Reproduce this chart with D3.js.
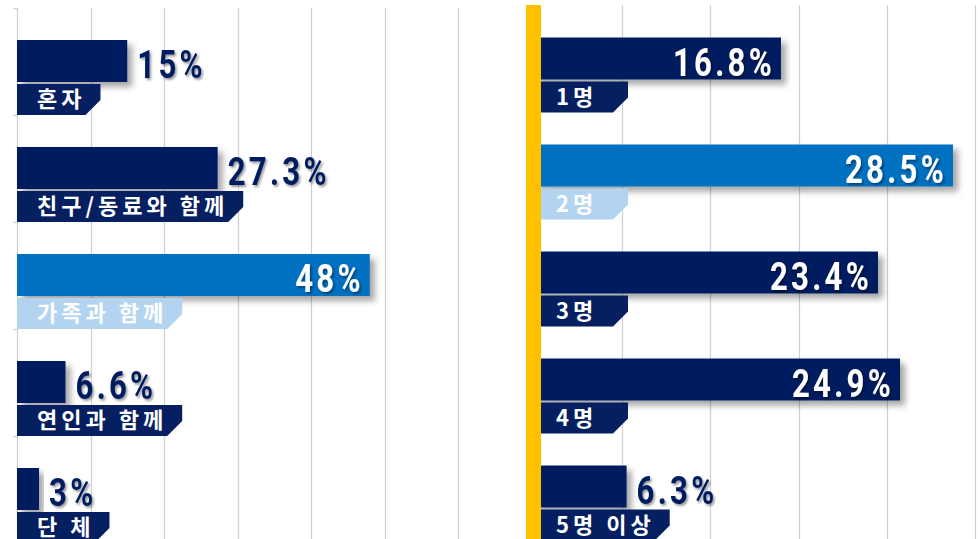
<!DOCTYPE html>
<html>
<head>
<meta charset="utf-8">
<script src="https://cdn.jsdelivr.net/npm/d3@7"></script>
<style>
body { margin: 0; background: #fff; }
svg { display: block; }
</style>
</head>
<body>
<div id="chart"></div>
<script>
/* Two horizontal bar panels: travel companions and party size */

// left panel
var companions = ["혼자", "친구/동료와 함께", "가족과 함께", "연인과 함께", "단 체"];
var companionPct = [15, 27.3, 48, 6.6, 3];
var companionTicks = [0, 10, 20, 30, 40, 50, 60];

// right panel
var partySizes = ["1명", "2명", "3명", "4명", "5명 이상"];
var partyPct = [16.8, 28.5, 23.4, 24.9, 6.3];
var partyTicks = [0, 6, 12, 18, 24, 30];

var navy = "#061f60";
var blue = "#0070c0";
var lightBlue = "#b3d4f0";
var gold = "#ffc000";
var gridColor = "#cfcfcf";

var W = 978, H = 539;

var svg = d3.select("#chart").append("svg")
    .attr("width", W)
    .attr("height", H);

var defs = svg.append("defs");
defs.append("filter").attr("id", "barShadow")
    .attr("x", "-10%").attr("y", "-20%").attr("width", "130%").attr("height", "160%")
    .append("feDropShadow")
    .attr("dx", 5).attr("dy", 5).attr("stdDeviation", 3)
    .attr("flood-color", "#000").attr("flood-opacity", 0.35);
defs.append("filter").attr("id", "textShadow")
    .attr("x", "-10%").attr("y", "-20%").attr("width", "130%").attr("height", "160%")
    .append("feDropShadow")
    .attr("dx", 2).attr("dy", 2).attr("stdDeviation", 1.2)
    .attr("flood-color", "#000").attr("flood-opacity", 0.4);

function drawPanel(opt) {
    var g = svg.append("g");

    var x = d3.scaleLinear()
        .domain([0, opt.ticks[opt.ticks.length - 1]])
        .range([opt.x0, opt.x1]);

    var y = d3.scaleBand()
        .domain(opt.labels)
        .range([opt.y0, opt.y0 + 107 * opt.labels.length]);

    // vertical grid
    g.selectAll(".grid")
        .data(opt.ticks)
        .enter().append("line")
        .attr("class", "grid")
        .attr("x1", function (d) { return Math.round(x(d)) + 0.5; })
        .attr("x2", function (d) { return Math.round(x(d)) + 0.5; })
        .attr("y1", opt.gridTop)
        .attr("y2", H)
        .attr("stroke", gridColor)
        .attr("stroke-width", 1.2);

    // little ticks on the category axis
    if (opt.catTicks) {
        g.selectAll(".ytick")
            .data(d3.range(opt.labels.length))
            .enter().append("line")
            .attr("x1", opt.x0 - 4)
            .attr("x2", opt.x0)
            .attr("y1", function (i) { return Math.round(opt.y0 + y.step() * i) + 0.5; })
            .attr("y2", function (i) { return Math.round(opt.y0 + y.step() * i) + 0.5; })
            .attr("stroke", gridColor)
            .attr("stroke-width", 1.2);
    }

    var rows = g.selectAll(".row")
        .data(opt.labels)
        .enter().append("g")
        .attr("class", "row");

    rows.each(function (label, i) {
        var row = d3.select(this);
        var v = opt.values[i];
        var hi = i === opt.highlight;
        var top = y(label) + 32;
        var barH = 42;
        var barRight = x(v);

        row.append("rect")
            .attr("x", x(0))
            .attr("y", top)
            .attr("width", barRight - x(0))
            .attr("height", barH)
            .attr("fill", hi ? blue : navy)
            .attr("filter", "url(#barShadow)");

        // label tab under the bar
        var tabTop = top + barH + 2;
        var tabBot = y(label) + y.step();
        var tab = row.append("path")
            .attr("fill", hi ? lightBlue : navy);

        var txt = row.append("text")
            .attr("x", opt.textX)
            .attr("y", tabTop + 23)
            .attr("fill", "#fff")
            .attr("font-family", "'Noto Sans CJK KR', sans-serif")
            .attr("font-weight", 700)
            .attr("font-size", 22)
            .attr("letter-spacing", 4)
            .text(label);

        var tw = txt.node().getBBox().width;
        var tabRight = Math.max(opt.minTab, opt.textX + tw + 15);
        var cut = 15;
        tab.attr("d", "M" + x(0) + "," + tabTop +
            "H" + tabRight +
            "V" + (tabBot - cut) +
            "L" + (tabRight - cut) + "," + tabBot +
            "H" + x(0) + "Z");

        // value label
        var inside = opt.inside(v, i);
        var tx = inside ? barRight - 6 : barRight + 10;
        row.append("text")
            .attr("transform", "translate(" + tx + "," + (top + barH - 4) + ") scale(0.82,1)")
            .attr("text-anchor", inside ? "end" : "start")
            .attr("fill", inside ? "#fff" : navy)
            .attr("font-family", "Roboto, 'DejaVu Sans', sans-serif")
            .attr("font-weight", 700)
            .attr("font-size", 38)
            .attr("letter-spacing", 4)
            .attr("filter", "url(#textShadow)")
            .text(d3.format("")(v) + "%");
    });

    return g;
}

drawPanel({
    labels: companions,
    values: companionPct,
    ticks: companionTicks,
    x0: 17, x1: 458,
    y0: 8, gridTop: 8,
    catTicks: true,
    highlight: 2,
    textX: 37,
    minTab: 0,
    inside: function (v, i) { return i === 2; }
});

drawPanel({
    labels: partySizes,
    values: partyPct,
    ticks: partyTicks,
    x0: 534, x1: 975,
    y0: 5.5, gridTop: 5,
    catTicks: false,
    highlight: 1,
    textX: 556,
    minTab: 628,
    inside: function (v) { return v > 10; }
});

// gold axis bar on the right panel
svg.append("rect")
    .attr("x", 526)
    .attr("y", 5)
    .attr("width", 15)
    .attr("height", H - 5)
    .attr("fill", gold);
</script>
</body>
</html>
